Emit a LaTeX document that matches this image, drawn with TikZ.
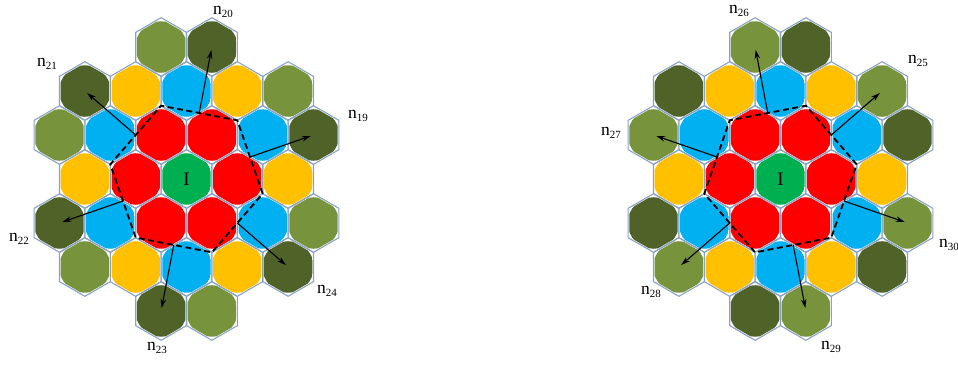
\documentclass[tikz,border=0pt]{standalone}
\usepackage{fontspec}
\setmainfont{Liberation Serif}
\usetikzlibrary{arrows.meta}

\definecolor{hexedge}{RGB}{137,163,198}
\definecolor{cred}{RGB}{255,0,0}
\definecolor{cblue}{RGB}{0,176,240}
\definecolor{cyellow}{RGB}{255,192,0}
\definecolor{cgreen}{RGB}{0,176,80}
\definecolor{cdark}{RGB}{79,98,40}
\definecolor{clight}{RGB}{119,147,60}

% label "n" with a lowered index
\newcommand\nlab[1]{n\raisebox{-0.42ex}{\fontsize{11}{11}\selectfont #1}}

\tikzset{
  hexline/.style={draw=hexedge, line width=1.1pt, line join=miter},
  dashhex/.style={draw=black, line width=1.8pt, dash pattern=on 6pt off 3.5pt},
  arr/.style={draw=black, line width=1.1pt, -{Stealth[length=9pt,width=5.5pt]}, shorten >=3pt},
  lbl/.style={font=\fontsize{17.5}{17.5}\selectfont, inner sep=0pt},
  ctr/.style={font=\fontsize{19}{19}\selectfont, inner sep=0pt},
  pics/hexcell/.style={code={
    \draw[hexline] (30:0.57735)--(90:0.57735)--(150:0.57735)--(210:0.57735)--(270:0.57735)--(330:0.57735)--cycle;
    \begin{scope}
      \clip (30:0.55)--(90:0.55)--(150:0.55)--(210:0.55)--(270:0.55)--(330:0.55)--cycle;
      \fill[#1] (0,0) circle[radius=0.507];
    \end{scope}
  }},
  % one 31-cell cluster around the centre cell I
  pics/cluster/.style={code={
    \pic at (0,0) {hexcell=cgreen};
    \foreach \a in {0,60,...,300} {
      \pic at (\a:1) {hexcell=cred};
      \pic at (\a+30:1.7321) {hexcell=cblue};
      \pic at (\a:2) {hexcell=cyellow};
      \pic at (\a+19.107:2.6458) {hexcell=cdark};
      \pic at (\a+40.893:2.6458) {hexcell=clight};
    }
  }}
}

\begin{document}
\begin{tikzpicture}[x=1pt, y=1pt]
  \useasboundingbox (0,0) rectangle (958,-366);
  \fill[white] (0,0) rectangle (958,-366);

  % ---- left cluster ----
  \begin{scope}[shift={(186.5,-179)}, x=50.8pt, y=50.8pt]
    \pic at (0,0) {cluster};
    \node[ctr] (L-I) at (0,0) {I};
    \foreach \k in {0,...,5} {
      \coordinate (L-v\k) at ({-10.893+60*\k}:1.5275);
      \coordinate (L-m\k) at ({19.107+60*\k}:1.3229);
      \coordinate (L-t\k) at ({19.107+60*\k}:2.6458);
    }
    \draw[dashhex] (L-v0)--(L-v1)--(L-v2)--(L-v3)--(L-v4)--(L-v5)--cycle;
    \foreach \k in {0,...,5} { \draw[arr] (L-m\k) -- (L-t\k); }
  \end{scope}

  % ---- right cluster ----
  \begin{scope}[shift={(780.5,-179)}, x=50.8pt, y=50.8pt]
    \pic at (0,0) {cluster};
    \node[ctr] (R-I) at (0,0) {I};
    \foreach \k in {0,...,5} {
      \coordinate (R-v\k) at ({10.893+60*\k}:1.5275);
      \coordinate (R-m\k) at ({40.893+60*\k}:1.3229);
      \coordinate (R-t\k) at ({40.893+60*\k}:2.6458);
    }
    \draw[dashhex] (R-v0)--(R-v1)--(R-v2)--(R-v3)--(R-v4)--(R-v5)--cycle;
    \foreach \k in {0,...,5} { \draw[arr] (R-m\k) -- (R-t\k); }
  \end{scope}

  % ---- labels ----
  \node[lbl] (n19) at (358,-116) {\nlab{19}};
  \node[lbl] (n20) at (223,-12) {\nlab{20}};
  \node[lbl] (n21) at (47,-64) {\nlab{21}};
  \node[lbl] (n22) at (19,-239) {\nlab{22}};
  \node[lbl] (n23) at (157,-348) {\nlab{23}};
  \node[lbl] (n24) at (327,-291) {\nlab{24}};

  \node[lbl] (n25) at (918,-61) {\nlab{25}};
  \node[lbl] (n26) at (739,-11) {\nlab{26}};
  \node[lbl] (n27) at (611,-133) {\nlab{27}};
  \node[lbl] (n28) at (651,-292) {\nlab{28}};
  \node[lbl] (n29) at (831,-347) {\nlab{29}};
  \node[lbl] (n30) at (949,-245) {\nlab{30}};
\end{tikzpicture}
\end{document}
